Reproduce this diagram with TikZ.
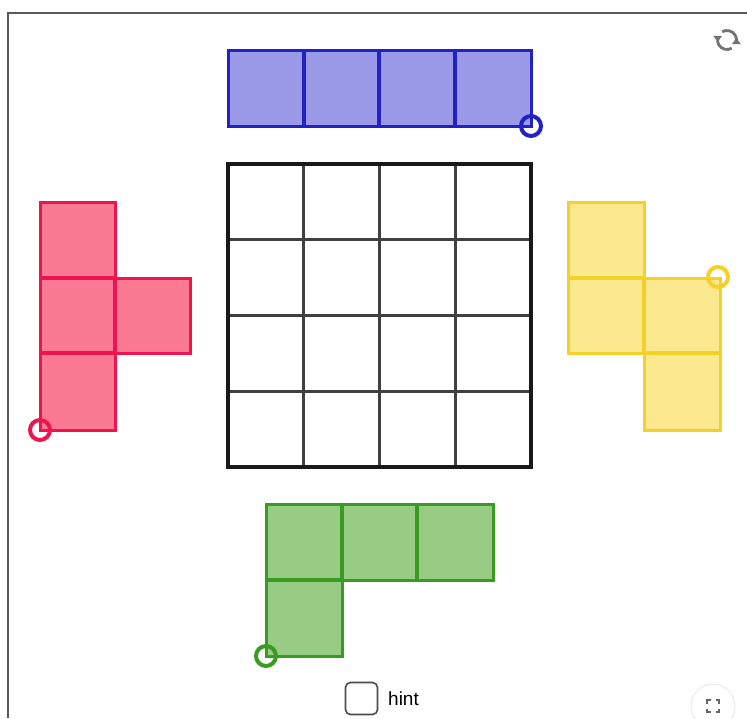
\documentclass[tikz,border=0pt]{standalone}
\usepackage{fontspec}
\setmainfont{Liberation Sans}
\begin{document}
\begin{tikzpicture}[x=1pt,y=-1pt,
  piece/.style={line width=3pt,line join=miter},
  inner/.style={line width=3.2pt},
  handle/.style={line width=4pt,fill=none},
]
\definecolor{bluS}{HTML}{2222C4}\definecolor{bluF}{HTML}{9A9AE8}
\definecolor{redS}{HTML}{EE1450}\definecolor{redF}{HTML}{FA7A93}
\definecolor{yelS}{HTML}{F4D12A}\definecolor{yelF}{HTML}{FCE88F}
\definecolor{grnS}{HTML}{3A9B22}\definecolor{grnF}{HTML}{98CC84}
\useasboundingbox (0,0) rectangle (747,718);
\fill[white] (0,0) rectangle (747,718);
% frame
\draw[line width=2pt,color=black!65] (8,718) -- (8,13) -- (747,13);
% central grid
\foreach \i in {1,2,3}{
  \draw[line width=3pt,black!75] ({228+75.75*\i},164) -- ({228+75.75*\i},467);
  \draw[line width=3pt,black!75] (228,{164+75.75*\i}) -- (531,{164+75.75*\i});
}
\draw[line width=3.6pt,black!90] (228,164) rectangle (531,467);
% blue piece
\filldraw[piece,draw=bluS,fill=bluF] (228,50) rectangle (531,126);
\foreach \x in {304,379,455} \draw[inner,draw=bluS] (\x,50) -- (\x,126);
\draw[handle,draw=bluS] (531,126) circle (10);
% red piece
\filldraw[piece,draw=redS,fill=redF] (40,202) -- (115,202) -- (115,278) -- (190,278) -- (190,353) -- (115,353) -- (115,430) -- (40,430) -- cycle;
\draw[inner,draw=redS] (40,278) -- (115,278) -- (115,353) -- (40,353);
\draw[handle,draw=redS] (40,430) circle (10);
% yellow piece
\filldraw[piece,draw=yelS,fill=yelF] (568,202) -- (644,202) -- (644,278) -- (720,278) -- (720,430) -- (644,430) -- (644,353) -- (568,353) -- cycle;
\draw[inner,draw=yelS] (568,278) -- (644,278) -- (644,353) -- (720,353);
\draw[handle,draw=yelS] (718,277) circle (10);
% green piece
\filldraw[piece,draw=grnS,fill=grnF] (266,504) -- (493,504) -- (493,580) -- (342,580) -- (342,656) -- (266,656) -- cycle;
\draw[inner,draw=grnS] (342,504) -- (342,580) -- (266,580);
\draw[inner,draw=grnS] (417,504) -- (417,580);
\draw[handle,draw=grnS] (266,656) circle (10);
% refresh icon
\begin{scope}[shift={(727,40)},black!55,line width=2.8pt]
  \draw (60:9.5) arc (60:190:9.5);
  \draw (240:9.5) arc (240:370:9.5);
  \fill (190:9.5) ++(-4.5,-2.5) -- ++(9,0) -- ++(-4.5,6) -- cycle;
  \fill (10:9.5) ++(-4.5,2.5) -- ++(9,0) -- ++(-4.5,-6) -- cycle;
\end{scope}
% fullscreen button
\draw[black!8,line width=1pt] (713,706) circle (22);
\begin{scope}[shift={(713,706)},black!60,line width=1.8pt]
  \draw (-6,-2.5) -- (-6,-6) -- (-2.5,-6);
  \draw (2.5,-6) -- (6,-6) -- (6,-2.5);
  \draw (-6,2.5) -- (-6,6) -- (-2.5,6);
  \draw (2.5,6) -- (6,6) -- (6,2.5);
\end{scope}
% hint checkbox
\node[draw=black!70,line width=1.6pt,rounded corners=5pt,minimum size=32pt,inner sep=0pt] (cb) at (361.5,698.5) {};
\node[anchor=west,font=\fontsize{19}{22}\selectfont,inner sep=0pt] (hint) at (388,699) {hint};
\end{tikzpicture}
\end{document}
